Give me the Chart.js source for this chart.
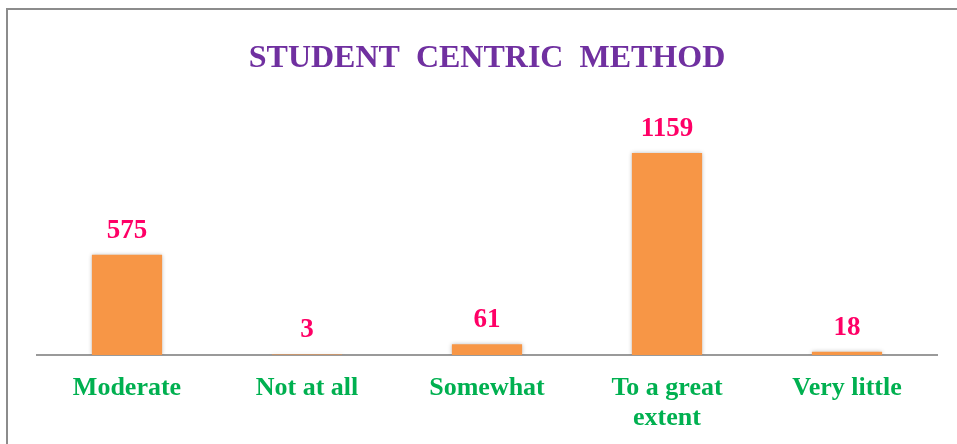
<!DOCTYPE html>
<html>
<head>
<meta charset="utf-8">
<script src="https://cdn.jsdelivr.net/npm/chart.js@4"></script>
<style>
    body { margin: 0; background: #fff; overflow: hidden; }
    #marco { position: absolute; left: 6px; top: 8px; width: 1000px; height: 500px; border: 2px solid #8c8c8c; }
    #lienzo { position: absolute; left: 0; top: 0; width: 957px; height: 444px; }
</style>
</head>
<body>
<div id="marco"></div>
<div id="lienzo"><canvas id="grafica" width="957" height="444"></canvas></div>
<script>
const categorias = ['Moderate', 'Not at all', 'Somewhat', ['To a great', 'extent'], 'Very little'];
const valores = [575, 3, 61, 1159, 18];
const titulo = 'STUDENT  CENTRIC  METHOD';

// etiquetas de valor encima de cada barra
const etiquetasValor = {
    id: 'etiquetasValor',
    beforeDatasetsDraw(chart) {
        chart.ctx.save();
        chart.ctx.shadowColor = 'rgba(0,0,0,0.28)';
        chart.ctx.shadowBlur = 4;
    },
    afterDatasetsDraw(chart) {
        const ctx = chart.ctx;
        ctx.restore();
        ctx.save();
        ctx.font = 'bold 27px "Liberation Serif", "Times New Roman", serif';
        ctx.fillStyle = '#FF0066';
        ctx.textAlign = 'center';
        ctx.textBaseline = 'middle';
        chart.getDatasetMeta(0).data.forEach((barra, i) => {
            ctx.fillText(valores[i], barra.x, barra.y - 24);
        });
        ctx.restore();
    }
};

const ctx = document.getElementById('grafica').getContext('2d');
new Chart(ctx, {
    type: 'bar',
    data: {
        labels: categorias,
        datasets: [{
            data: valores,
            backgroundColor: '#F79646',
            borderWidth: 0,
            categoryPercentage: 1,
            barPercentage: 0.39
        }]
    },
    options: {
        responsive: false,
        animation: false,
        layout: { padding: { left: 37, right: 20, top: 0, bottom: 0 } },
        plugins: {
            legend: { display: false },
            tooltip: { enabled: false },
            title: {
                display: true,
                text: titulo,
                color: '#7030A0',
                font: { family: '"Liberation Serif", "Times New Roman", serif', size: 32, weight: 'bold' },
                padding: { top: 40, bottom: 20 }
            }
        },
        scales: {
            x: {
                grid: { display: false, drawTicks: false },
                border: { display: true, color: '#9a9a9a', width: 2 },
                ticks: {
                    color: '#00B050',
                    padding: 18,
                    font: { family: '"Liberation Serif", "Times New Roman", serif', size: 26, weight: 'bold', lineHeight: 1.15 },
                    maxRotation: 0,
                    autoSkip: false
                },
                afterFit(escala) {
                    escala.height = 89;
                }
            },
            y: {
                display: false,
                min: 0,
                max: 1472
            }
        }
    },
    plugins: [etiquetasValor]
});
</script>
</body>
</html>
